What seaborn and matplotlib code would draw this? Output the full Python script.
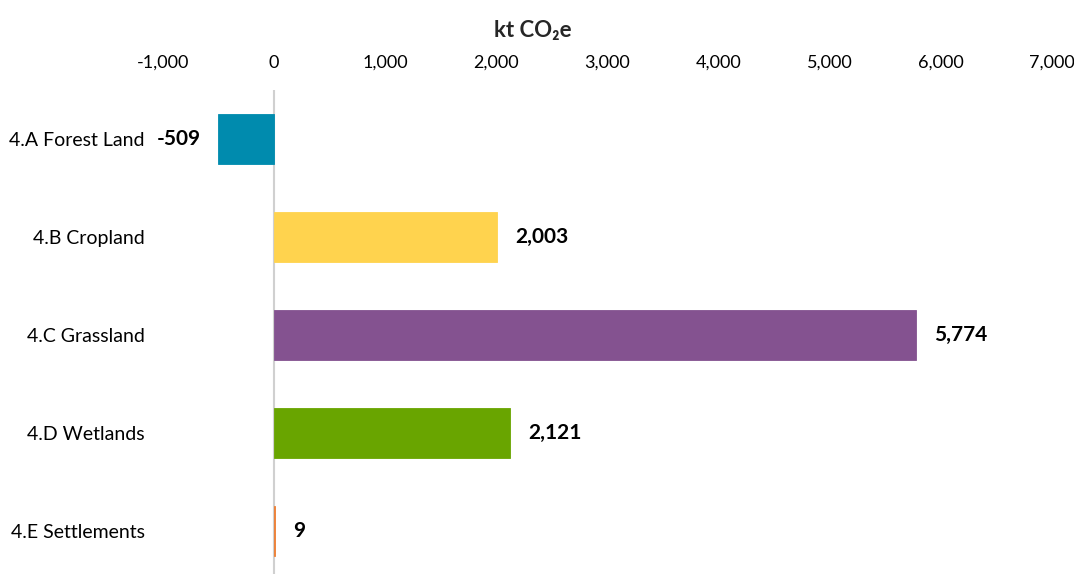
import matplotlib
matplotlib.use("Agg")
import matplotlib.pyplot as plt
import seaborn as sns
import pandas as pd

categories = ["4.A Forest Land", "4.B Cropland", "4.C Grassland", "4.D Wetlands", "4.E Settlements"]
values = [-509, 2003, 5774, 2121, 9]
colors = ["#008BAE", "#FFD34E", "#845290", "#69A500", "#ED7D31"]
xticks = [-1000, 0, 1000, 2000, 3000, 4000, 5000, 6000, 7000]

sns.set_theme(style="white")
plt.rcParams['font.family'] = ['Lato', 'DejaVu Sans']
plt.rcParams['text.color'] = 'black'
plt.rcParams['xtick.color'] = 'black'
plt.rcParams['ytick.color'] = 'black'

df = pd.DataFrame({"cat": categories, "val": values})

fig = plt.figure(figsize=(10.74, 5.74), dpi=100)
ax = fig.add_axes([163/1074, 0.0, (1052-163)/1074, (574-90)/574])
sns.barplot(data=df, x="val", y="cat", hue="cat", palette=colors, orient="h",
            width=0.51, ax=ax, legend=False, saturation=1)
for p in ax.patches:
    p.set_edgecolor(p.get_facecolor())
    p.set_linewidth(0.6)

ax.set_xlim(-1000, 7000)
ax.set_ylim(4.44, -0.5)
ax.set_xticks(xticks)
ax.set_xticklabels([f"{t:,}" for t in xticks], fontsize=13)
ax.xaxis.tick_top()
ax.xaxis.set_label_position("top")
ax.set_xlabel("kt CO₂e", fontsize=16, fontweight="bold")
ax.xaxis.set_label_coords((533-163)/889, 1.11)
ax.set_ylabel("")
ax.tick_params(axis="x", length=0, pad=14)
ax.tick_params(axis="y", length=0, pad=13, labelsize=14)
for s in ax.spines.values():
    s.set_visible(False)
ax.axvline(0, color="#D0D0D0", lw=1.5, zorder=0)

for i, v in enumerate(values):
    if v < 0:
        ax.annotate(f"{v:,}", (v, i), xytext=(-12, 0), textcoords="offset points",
                    ha="right", va="center", fontsize=15, fontweight="bold")
    else:
        ax.annotate(f"{v:,}", (v, i), xytext=(13, 0), textcoords="offset points",
                    ha="left", va="center", fontsize=15, fontweight="bold")

fig.savefig("out.png", dpi=100)
